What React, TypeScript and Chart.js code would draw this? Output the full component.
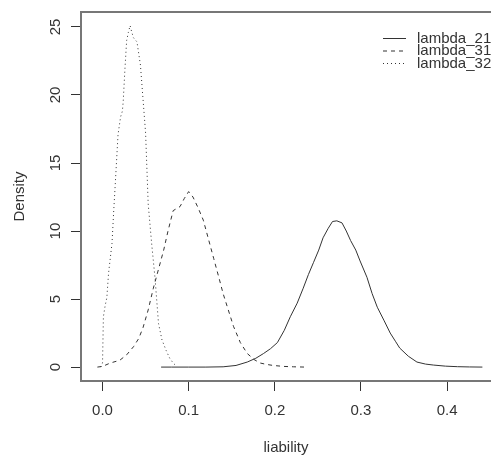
import React, { useEffect, useRef } from "react";
import { Chart, registerables } from "chart.js";

Chart.register(...registerables);

const seriesNames = ["lambda_21", "lambda_31", "lambda_32"];

const lambda21X = [0.068, 0.08, 0.1, 0.12, 0.14, 0.155, 0.168, 0.178, 0.187, 0.195, 0.203, 0.211, 0.218, 0.226, 0.233, 0.239, 0.245, 0.251, 0.256, 0.262, 0.267, 0.272, 0.278, 0.283, 0.288, 0.294, 0.299, 0.307, 0.313, 0.319, 0.327, 0.334, 0.34, 0.345, 0.355, 0.365, 0.375, 0.384, 0.398, 0.412, 0.426, 0.441];
const lambda21Y = [0, 0, 0, 0, 0.02, 0.12, 0.37, 0.65, 1.0, 1.35, 1.8, 2.7, 3.7, 4.7, 5.8, 6.8, 7.7, 8.6, 9.5, 10.2, 10.7, 10.75, 10.6, 10.0, 9.3, 8.6, 7.8, 6.6, 5.4, 4.4, 3.4, 2.5, 1.9, 1.4, 0.8, 0.37, 0.22, 0.15, 0.07, 0.03, 0.01, 0];

const lambda31X = [-0.006, 0.0, 0.009, 0.02, 0.028, 0.036, 0.042, 0.047, 0.053, 0.059, 0.065, 0.071, 0.076, 0.082, 0.09, 0.095, 0.1, 0.105, 0.111, 0.117, 0.123, 0.129, 0.135, 0.14, 0.146, 0.152, 0.16, 0.168, 0.176, 0.183, 0.19, 0.198, 0.21, 0.222, 0.235];
const lambda31Y = [0, 0.05, 0.3, 0.5, 0.9, 1.5, 2.1, 2.9, 4.2, 5.8, 7.2, 8.6, 10.0, 11.5, 11.8, 12.4, 12.9, 12.5, 11.7, 10.8, 9.4, 8.0, 6.6, 5.4, 4.2, 3.0, 1.8, 1.0, 0.55, 0.3, 0.2, 0.12, 0.05, 0.02, 0];

const lambda32X = [-0.002, 0.0, 0.001, 0.003, 0.005, 0.007, 0.009, 0.011, 0.013, 0.015, 0.018, 0.021, 0.023, 0.024, 0.026, 0.028, 0.03, 0.032, 0.034, 0.036, 0.04, 0.044, 0.047, 0.05, 0.053, 0.057, 0.061, 0.065, 0.069, 0.074, 0.078, 0.082, 0.086];
const lambda32Y = [0, 0.3, 3.7, 4.5, 5.1, 6.9, 8.0, 9.1, 11.5, 13.7, 17.1, 18.4, 18.8, 19.5, 21.9, 24.0, 24.6, 25.1, 24.6, 24.2, 23.9, 22.2, 19.7, 17.2, 12.0, 9.1, 6.5, 3.2, 2.0, 1.2, 0.65, 0.3, 0.05];

const xTicks = [0.0, 0.1, 0.2, 0.3, 0.4];
const yTicks = [0, 5, 10, 15, 20, 25];

const FONT = "'Liberation Sans', Arial, sans-serif";
const TEXT = "#333";
const LINE = "#333";
const BOX = "#777";
const dashes = [[], [4, 4], [1, 3]];

function pts(xs: number[], ys: number[]) {
  return xs.map((x, i) => ({ x, y: ys[i] }));
}

export default function App() {
  const ref = useRef<HTMLCanvasElement | null>(null);
  useEffect(() => {
    if (!ref.current) return;
    const overlay = {
      id: "overlay",
      afterDraw(chart: any) {
        const ctx = chart.ctx;
        const ca = chart.chartArea;
        ctx.save();
        ctx.strokeStyle = BOX;
        ctx.lineWidth = 2;
        ctx.setLineDash([]);
        ctx.beginPath();
        ctx.moveTo(ca.left - 1, ca.top);
        ctx.lineTo(ca.right, ca.top);
        ctx.stroke();
        const ys = chart.scales.y;
        ctx.fillStyle = TEXT;
        ctx.font = `15px ${FONT}`;
        ctx.textAlign = "center";
        ctx.textBaseline = "middle";
        yTicks.forEach((v) => {
          const py = ys.getPixelForValue(v);
          ctx.save();
          ctx.translate(56, py);
          ctx.rotate(-Math.PI / 2);
          ctx.fillText(String(v), 0, 0);
          ctx.restore();
        });
        ctx.textAlign = "left";
        seriesNames.forEach((name, i) => {
          const y = 38.5 + i * 12.5;
          ctx.strokeStyle = LINE;
          ctx.lineWidth = 1;
          ctx.setLineDash(dashes[i]);
          ctx.beginPath();
          ctx.moveTo(383, y);
          ctx.lineTo(406, y);
          ctx.stroke();
          ctx.setLineDash([]);
          ctx.fillStyle = TEXT;
          ctx.fillText(name, 417, y);
        });
        ctx.restore();
      },
    };
    const chart = new Chart(ref.current, {
      type: "line",
      data: {
        datasets: [
          { label: seriesNames[0], data: pts(lambda21X, lambda21Y), borderDash: dashes[0] },
          { label: seriesNames[1], data: pts(lambda31X, lambda31Y), borderDash: dashes[1] },
          { label: seriesNames[2], data: pts(lambda32X, lambda32Y), borderDash: dashes[2] },
        ].map((d) => ({
          ...d,
          borderColor: LINE,
          borderWidth: 1,
          pointRadius: 0,
          tension: 0,
          fill: false,
        })),
      },
      options: {
        responsive: false,
        animation: false,
        devicePixelRatio: 1,
        layout: { padding: { top: 10, right: 0, left: 0, bottom: 0 } },
        plugins: { legend: { display: false }, tooltip: { enabled: false } },
        scales: {
          x: {
            type: "linear",
            min: -0.025,
            max: 0.451,
            afterBuildTicks: (s: any) => {
              s.ticks = xTicks.map((value) => ({ value }));
            },
            afterFit: (s: any) => {
              s.height = 77;
            },
            ticks: {
              color: TEXT,
              font: { family: FONT, size: 15 },
              padding: 11,
              maxRotation: 0,
              callback: (v: any) => Number(v).toFixed(1),
            },
            grid: {
              drawOnChartArea: false,
              drawTicks: true,
              tickLength: 10,
              tickColor: LINE,
              lineWidth: 1,
            },
            border: { display: true, color: BOX, width: 2 },
            title: {
              display: true,
              text: "liability",
              color: TEXT,
              font: { family: FONT, size: 15 },
              padding: { top: 0, bottom: 1 },
            },
          },
          y: {
            type: "linear",
            min: -1.023,
            max: 26.1,
            afterBuildTicks: (s: any) => {
              s.ticks = yTicks.map((value) => ({ value }));
            },
            afterFit: (s: any) => {
              s.width = 81;
            },
            ticks: {
              color: "rgba(0,0,0,0)",
              font: { family: FONT, size: 15 },
            },
            grid: {
              drawOnChartArea: false,
              drawTicks: true,
              tickLength: 10,
              tickColor: LINE,
              lineWidth: 1,
            },
            border: { display: true, color: BOX, width: 2 },
            title: {
              display: true,
              text: "Density",
              color: TEXT,
              font: { family: FONT, size: 15 },
              padding: { top: 11, bottom: 0 },
            },
          },
        },
      },
      plugins: [overlay],
    } as any);
    return () => chart.destroy();
  }, []);
  return (
    <div style={{ position: "fixed", left: 0, top: 0, width: 491, height: 458, background: "#fff", overflow: "hidden" }}>
      <canvas ref={ref} width={491} height={458} style={{ display: "block" }} />
    </div>
  );
}
